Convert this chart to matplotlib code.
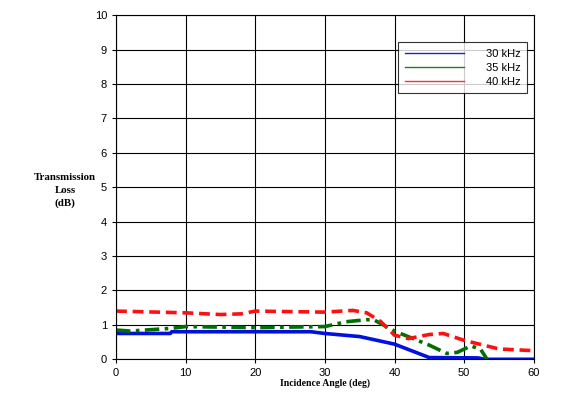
import numpy as np
import matplotlib.pyplot as plt
from matplotlib.lines import Line2D

# Transmission loss vs incidence angle
x30 = [0, 7.8, 8, 28, 30, 35, 40, 45, 52, 53, 60]
y30 = [0.75, 0.75, 0.8, 0.8, 0.75, 0.66, 0.44, 0.05, 0.04, 0.0, 0.0]

x35 = [0, 2, 8, 10, 20, 30, 33, 36, 37, 40, 45, 47.5, 49, 51, 52.4, 53.3]
y35 = [0.85, 0.82, 0.9, 0.95, 0.92, 0.95, 1.09, 1.15, 1.15, 0.82, 0.41, 0.17, 0.2, 0.39, 0.28, 0.0]

x40 = [0, 10, 15, 18, 20, 30, 34, 36, 38, 40, 42, 45, 47, 50, 52, 55, 60]
y40 = [1.4, 1.35, 1.3, 1.32, 1.4, 1.37, 1.42, 1.35, 1.1, 0.7, 0.6, 0.72, 0.75, 0.55, 0.45, 0.3, 0.25]

labels = ['30 kHz', '35 kHz', '40 kHz']

fig = plt.figure(figsize=(5.66, 3.97), dpi=100)
ax = fig.add_axes([0.205, 0.095, 0.738, 0.867])

ax.plot(x30, y30, color='#0010e0', lw=2.6, ls='-')
ax.plot(x35, y35, color='#007000', lw=2.6, ls=(0, (4, 1.5, 1, 1.5)))
ax.plot(x40, y40, color='#ff1010', lw=2.6, ls=(0, (3, 1.6)))

ax.set_xlim(0, 60)
ax.set_ylim(0, 10)
ax.set_xticks(np.arange(0, 61, 10))
ax.set_yticks(np.arange(0, 11, 1))
ax.grid(True, color='black', lw=0.8)
ax.tick_params(labelsize=8, length=3)
for t in ax.get_xticklabels() + ax.get_yticklabels():
    t.set_family('Liberation Sans')

ax.set_xlabel('Incidence Angle (deg)', fontsize=7, fontweight='bold',
              family='Liberation Serif', labelpad=0)
ax.set_ylabel('Transmission\nLoss\n(dB)', fontsize=7.8, fontweight='bold',
              family='Liberation Serif', rotation=0, va='center', ha='center',
              linespacing=1.55)
ax.yaxis.set_label_coords(-0.122, 0.49)

# legend entries are plain solid lines
handles = [Line2D([], [], color=c, lw=1) for c in ['#2020d0', '#208020', '#ff3030']]
leg = ax.legend(handles, labels, loc='upper right', bbox_to_anchor=(0.998, 0.937),
                prop={'family': 'Liberation Sans', 'size': 8},
                handlelength=5.3, frameon=True, fancybox=False, edgecolor='black',
                borderpad=0.6, labelspacing=0.35, handletextpad=2.0)
leg.get_frame().set_linewidth(0.8)

plt.savefig('out.png', dpi=100)
